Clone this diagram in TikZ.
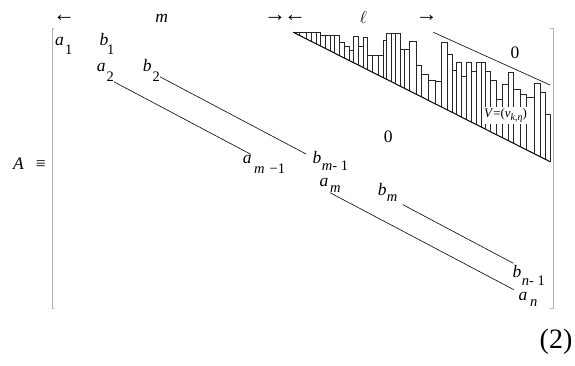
\documentclass[tikz,border=0pt]{standalone}
\usepackage{fontspec}
\setmainfont{Liberation Serif}
\usetikzlibrary{calc}

\begin{document}
\begin{tikzpicture}[x=1pt,y=-1pt,font=\fontsize{17.5}{20}\selectfont,
    ent/.style={inner sep=0pt,anchor=base west},
    idx/.style={ent,font=\fontsize{14.5}{16}\selectfont},
    span/.style={font=\fontsize{22}{24}\selectfont}]
  \useasboundingbox (0,0) rectangle (575,366);
  % widths of the blocks
  \node[span] (larr) at (64,18) {←};
  \node (mlen) at (161.7,18) {\textit{m}};
  \node[span] (marr) at (285,18) {→\hspace{-2pt}←};
  \node (llen) at (363.3,18) {$\ell$};
  \node[span] (rarr) at (426.7,18) {→};
  \node[ent] (lhs) at (13,170) {\textit{A}\hspace{12pt}≡};
  % brackets
  \draw[gray!60] (54,28.3) -- (51.7,28.3) -- (51.7,308.3) -- (54,308.3);
  \draw[gray!60] (550,28.3) -- (552.7,28.3) -- (552.7,308.3) -- (550,308.3);
  % entries
  \node[ent] (a1) at (55,46) {\textit{a}};
  \node[idx] (a1i) at (65,55) {1};
  \node[ent] (b1) at (99.3,46) {\textit{b}};
  \node[idx] (b1i) at (107,55) {1};
  \node[ent] (a2) at (96.7,71.7) {\textit{a}};
  \node[idx] (a2i) at (106.5,81.7) {2};
  \node[ent] (b2) at (142.7,71.7) {\textit{b}};
  \node[idx] (b2i) at (152.5,81.7) {2};
  \node[ent] (am1) at (242.7,163.3) {\textit{a}};
  \node[idx] (am1i) at (254,173.3) {\textit{m}\hspace{5pt}−1};
  \node[ent] (bm1) at (312.3,163.3) {\textit{b}};
  \node[idx] (bm1i) at (321.7,170.7) {\textit{m}- 1};
  \node[ent] (am) at (319.3,186) {\textit{a}};
  \node[idx] (ami) at (330,192.5) {\textit{m}};
  \node[ent] (bm) at (377.7,195) {\textit{b}};
  \node[idx] (bmi) at (386.7,201.7) {\textit{m}};
  \node[ent] (bn1) at (512.3,277.5) {\textit{b}};
  \node[idx] (bn1i) at (521.7,285.5) {\textit{n}- 1};
  \node[ent] (an) at (518.3,300.5) {\textit{a}};
  \node[idx] (ani) at (530,306.5) {\textit{n}};
  % diagonals
  \draw[line width=0.6pt,shorten >=1pt] (a2i.south east) -- (am1.north east);
  \draw[line width=0.6pt,shorten >=7pt] (b2i.east) -- (bm1.west);
  \draw[line width=0.6pt,shorten >=5pt] (ami.south west) -- (an.north west);
  \draw[line width=0.6pt,shorten <=6pt,shorten >=4pt] (bmi.south east) -- (bn1.north);
  % the block V
  \foreach \xl/\xr/\h in {293.3/299.3/32.3, 299.3/306/32.3, 306/311.7/32.3,
      311.7/316/32.3, 316/320.7/32.3, 320.7/325.3/35.7, 325.3/330/35.7,
      330/334.7/35.7, 334.7/339.3/35.7, 339.3/344/42.7, 344/349/46.7,
      349/353.3/50.7, 353.3/358/36.7, 358/363/46.3, 363/367/37.7,
      367/372.4/55.3, 372.4/377.9/55.3, 377.9/383.3/55.3, 383.3/386.7/40.5,
      386.7/391.1/33.8, 391.1/395.6/33.8, 395.6/400/33.8, 400/404.5/49.8,
      404.5/409/49.8, 409/416/41.7, 416/421.7/65.5, 421.7/428.7/74.7,
      428.7/435.3/80, 435.3/441/81.2, 441/447/42.7, 447/452.5/54.5,
      452.5/456.7/70.8, 456.7/461.7/62.2, 461.7/466.7/76.7, 466.7/471.7/62.5,
      471.7/476.7/71.7, 476.7/481/62.3, 481/485/62.3, 485/490.7/71.7,
      490.7/496.7/80, 496.7/502.7/99.3, 502.7/508.3/84, 508.3/513.3/72.7,
      513.3/520.7/89.3, 520.7/526.7/94, 526.7/534/97.3, 534/540/83.3,
      540/545/92.7, 545/550/114}
  {
    \pgfmathsetmacro{\yl}{32.3+(\xl-293.3)*0.5041}
    \pgfmathsetmacro{\yr}{32.3+(\xr-293.3)*0.5041}
    \draw[line width=0.7pt,black!85] (\xl,\yl) -- (\xl,\h) -- (\xr,\h) -- (\xr,\yr);
  }
  \draw[line width=1pt] (293.3,32.3) coordinate (vtop) -- (550,161.7) coordinate (vbot);
  \draw[line width=0.6pt] (433.3,32.3) coordinate (ztop) -- (550,85) coordinate (zbot);
  \node[fill=white,inner sep=1pt,font=\fontsize{13}{15}\selectfont] (vlab) at (505.5,115.5)
    {\textit{V}=(\textit{ν}\raisebox{-3pt}{\fontsize{10}{11}\selectfont\textit{k,η}})};
  \node (zup) at (515,53) {0};
  \node (zlow) at (388.3,136.7) {0};
  \node[font=\fontsize{28}{30}\selectfont] (eqno) at (556,342) {(2)};
\end{tikzpicture}
\end{document}
